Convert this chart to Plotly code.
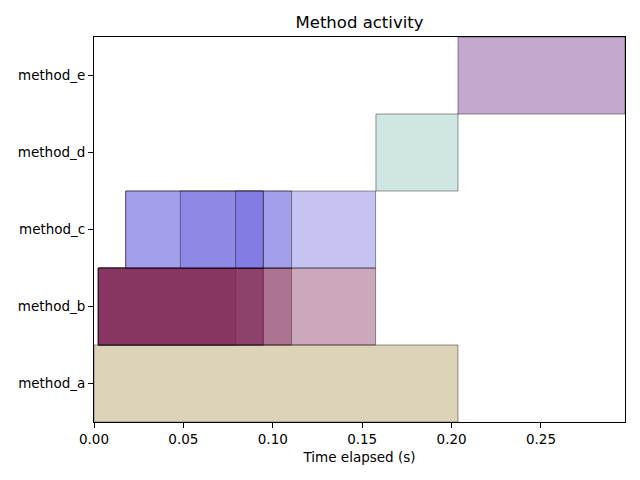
import plotly.graph_objects as go

categories = ["method_a", "method_b", "method_c", "method_d", "method_e"]

a_start = [0.0]
a_end = [0.2036]
b_start = [0.0024, 0.0024, 0.0024, 0.0024, 0.0024]
b_end = [0.0792, 0.0947, 0.0947, 0.1105, 0.1575]
c_start = [0.0177, 0.0177, 0.0483, 0.0792]
c_end = [0.1575, 0.1105, 0.0947, 0.0947]
d_start = [0.1577]
d_end = [0.2036]
e_start = [0.2036]
e_end = [0.297]

series = [
    ("method_a", a_start, a_end, "rgba(170,145,78,0.4)"),
    ("method_b", b_start, b_end, "rgba(125,38,85,0.4)"),
    ("method_c", c_start, c_end, "rgba(112,105,222,0.4)"),
    ("method_d", d_start, d_end, "rgba(135,193,183,0.4)"),
    ("method_e", e_start, e_end, "rgba(108,38,133,0.4)"),
]

x_ticks = [0.0, 0.05, 0.10, 0.15, 0.20, 0.25]

fig = go.Figure()
for name, starts, ends, color in series:
    fig.add_trace(go.Bar(
        y=[name] * len(starts),
        base=starts,
        x=[e - s for s, e in zip(starts, ends)],
        orientation="h",
        width=1,
        marker=dict(color=color, line=dict(color="rgba(0,0,0,0.4)", width=1)),
        showlegend=False,
        name=name,
    ))

font_family = "DejaVu Sans"
fig.update_layout(
    width=640, height=480,
    barmode="overlay",
    paper_bgcolor="white", plot_bgcolor="white",
    margin=dict(l=94, r=15, t=37, b=58),
    font=dict(family=font_family, size=13.5, color="black"),
    title=dict(text="Method activity", x=0.5, xref="paper", xanchor="center",
               y=1 - 22 / 480, yref="container", yanchor="middle",
               font=dict(size=16.5, family=font_family, color="black")),
    xaxis=dict(range=[0, 0.297], tickvals=x_ticks, tickformat=".2f",
               showline=True, mirror=True, linecolor="black", linewidth=1,
               ticks="outside", ticklen=5, tickcolor="black", showgrid=False,
               zeroline=False, automargin=False,
               title=dict(text="Time elapsed (s)", standoff=6,
                          font=dict(size=13.5))),
    yaxis=dict(type="category", categoryorder="array", categoryarray=categories,
               range=[-0.5, 4.5], showline=True, mirror=True, linecolor="black",
               linewidth=1, ticks="outside", ticklen=5, tickcolor="black",
               showgrid=False, zeroline=False, automargin=False),
)

fig.write_html("out.html", config={"displayModeBar": False},
               post_script="document.body.style.margin='0';")
